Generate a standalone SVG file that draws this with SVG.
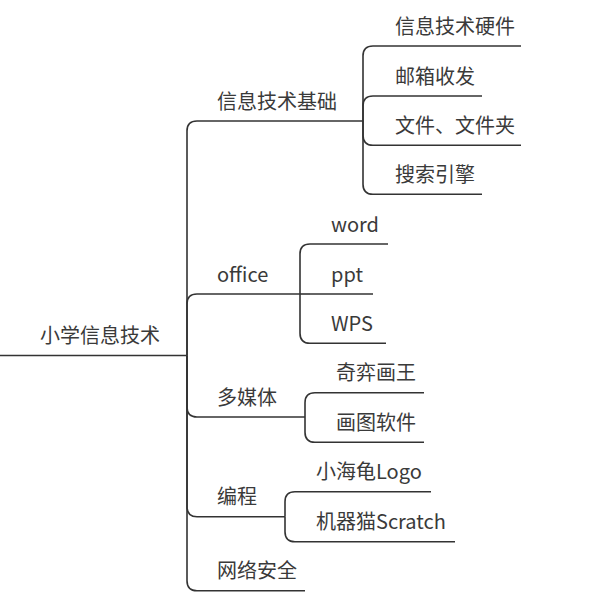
<svg xmlns="http://www.w3.org/2000/svg" width="599" height="597" viewBox="0 0 599 597">
<style>
text{font-family:"Noto Sans CJK SC","Noto Sans",sans-serif;font-size:20px;fill:#3a3a3a}
.ul,.cn{fill:none;stroke:#333;stroke-width:1.6;stroke-linecap:butt}
</style>
<rect width="599" height="597" fill="#fff"/>
<g id="connectors">
<path class="cn" d="M187 355.5V131Q187 121 197 121"/>
<path class="cn" d="M187 355.5V304Q187 294 197 294"/>
<path class="cn" d="M187 355.5V407Q187 417 197 417"/>
<path class="cn" d="M187 355.5V506.7Q187 516.7 197 516.7"/>
<path class="cn" d="M187 355.5V580.7Q187 590.7 197 590.7"/>
<path class="cn" d="M363 121V56Q363 46 373 46"/>
<path class="cn" d="M363 121V106Q363 96 373 96"/>
<path class="cn" d="M363 121V135.3Q363 145.3 373 145.3"/>
<path class="cn" d="M363 121V184.3Q363 194.3 373 194.3"/>
<path class="cn" d="M300 294V254Q300 244 310 244"/>
<path class="cn" d="M300 294H310"/>
<path class="cn" d="M300 294V333.3Q300 343.3 310 343.3"/>
<path class="cn" d="M305 417V402.7Q305 392.7 315 392.7"/>
<path class="cn" d="M305 417V432.3Q305 442.3 315 442.3"/>
<path class="cn" d="M285 516.7V501.7Q285 491.7 295 491.7"/>
<path class="cn" d="M285 516.7V531.7Q285 541.7 295 541.7"/>
</g>
<g id="root"><text x="40" y="343">小学信息技术</text><path class="ul" d="M0 355.5H187"/></g>
<g id="n1"><text x="217" y="108.5">信息技术基础</text><path class="ul" d="M197 121H363"/></g>
<g id="n1a"><text x="395" y="33.5">信息技术硬件</text><path class="ul" d="M373 46H521"/></g>
<g id="n1b"><text x="395" y="83.5">邮箱收发</text><path class="ul" d="M373 96H482"/></g>
<g id="n1c"><text x="395" y="132.8">文件、文件夹</text><path class="ul" d="M373 145.3H521"/></g>
<g id="n1d"><text x="395" y="181.8">搜索引擎</text><path class="ul" d="M373 194.3H482"/></g>
<g id="n2"><text x="217" y="281.5">office</text><path class="ul" d="M197 294H300"/></g>
<g id="n2a"><text x="331" y="231.5">word</text><path class="ul" d="M310 244H388"/></g>
<g id="n2b"><text x="331" y="281.5">ppt</text><path class="ul" d="M310 294H373"/></g>
<g id="n2c"><text x="331" y="330.8">WPS</text><path class="ul" d="M310 343.3H386"/></g>
<g id="n3"><text x="217" y="404.5">多媒体</text><path class="ul" d="M197 417H305"/></g>
<g id="n3a"><text x="336" y="380.2">奇弈画王</text><path class="ul" d="M315 392.7H424"/></g>
<g id="n3b"><text x="336" y="429.8">画图软件</text><path class="ul" d="M315 442.3H424"/></g>
<g id="n4"><text x="217" y="504.2">编程</text><path class="ul" d="M197 516.7H285"/></g>
<g id="n4a"><text x="316" y="479.2">小海龟Logo</text><path class="ul" d="M295 491.7H431"/></g>
<g id="n4b"><text x="316" y="529.2">机器猫Scratch</text><path class="ul" d="M295 541.7H455"/></g>
<g id="n5"><text x="217" y="578.2">网络安全</text><path class="ul" d="M197 590.7H305"/></g>
</svg>
